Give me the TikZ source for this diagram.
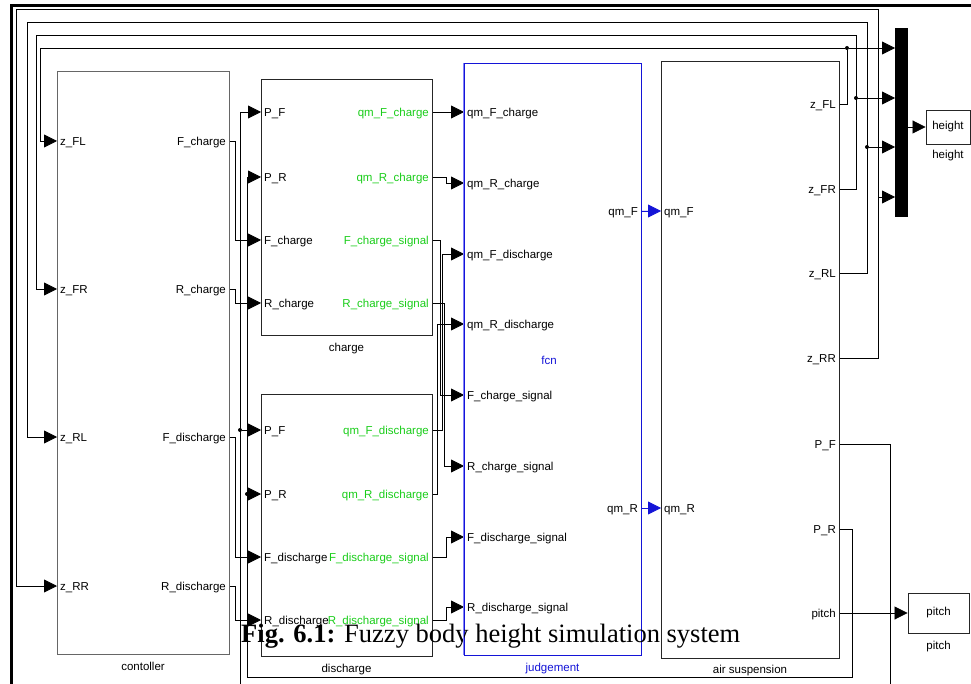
\documentclass[tikz,border=0pt]{standalone}
\usepackage{fontspec}
\setmainfont{Liberation Sans}
\newfontfamily\capfont{Liberation Serif}
\usetikzlibrary{arrows.meta}
\definecolor{portgreen}{RGB}{25,205,25}
\definecolor{fcnblue}{RGB}{20,20,215}
\definecolor{fcnlight}{RGB}{130,130,250}
\newcommand{\portsize}{\fontsize{11.5}{13}\selectfont}
\pgfdeclarelayer{edgelayer}
\pgfdeclarelayer{nodelayer}
\pgfsetlayers{edgelayer,nodelayer,main}
\tikzstyle{block}=[draw=black!85, line width=0.9pt, inner sep=0pt]
\tikzstyle{inport}=[anchor=west, inner xsep=3pt, inner ysep=0pt, text height=9pt, text depth=0pt, font=\portsize]
\tikzstyle{outport}=[inport, anchor=east]
\tikzstyle{gport}=[outport, text=portgreen]
\tikzstyle{blockname}=[anchor=base, inner sep=0pt, font=\portsize]
\tikzstyle{sig}=[draw=black, line width=0.8pt, -{Triangle[length=13pt,width=13pt]}]
\tikzstyle{junct}=[circle, fill=black, inner sep=0pt, minimum size=4pt]

\begin{document}
\begin{tikzpicture}[x=1pt, y=-1pt]
				\useasboundingbox (0,0) rectangle (971,684);
				\begin{pgfonlayer}{nodelayer}
					% blocks
					\node [style=block, draw=black!60, minimum width=172pt, minimum height=583pt] (ctl) at (143,362.5) {};
					\node [style=block, minimum width=171pt, minimum height=256pt] (chg) at (346.5,207) {};
					\node [style=block, minimum width=171pt, minimum height=262pt] (dis) at (346.5,525) {};
					\node [style=block, draw=fcnblue, minimum width=177pt, minimum height=592pt] (jdg) at (552.5,359) {};
					\node [style=block, minimum width=178pt, minimum height=597pt] (air) at (750,359.5) {};
					\node [fill=black, inner sep=0pt, minimum width=13pt, minimum height=189pt] (mux) at (901.5,122.5) {};
					\node [style=block, minimum width=44pt, minimum height=34pt, font=\portsize] (hgt) at (948,127) {height};
					\node [style=block, minimum width=61pt, minimum height=40pt, font=\portsize] (pit) at (938.5,613) {pitch};
					% block names
					\node [style=blockname] (ctlname) at (143,670) {contoller};
					\node [style=blockname] (chgname) at (346.5,351) {charge};
					\node [style=blockname] (disname) at (346.5,672) {discharge};
					\node [style=blockname, text=fcnblue] (jdgname) at (552.5,671) {judgement};
					\node [style=blockname] (airname) at (750,673) {air suspension};
					\node [style=blockname] (hgtname) at (948,159) {height};
					\node [style=blockname] (pitname) at (938.5,649) {pitch};
					\node [style=blockname, text=fcnblue] (fcn) at (549,364) {fcn};
					% contoller ports
					\node [style=inport] (ctFL) at (57,141) {z\_FL};
					\node [style=inport] (ctFR) at (57,289) {z\_FR};
					\node [style=inport] (ctRL) at (57,437) {z\_RL};
					\node [style=inport] (ctRR) at (57,586) {z\_RR};
					\node [style=outport] (ctFc) at (229,141) {F\_charge};
					\node [style=outport] (ctRc) at (229,289) {R\_charge};
					\node [style=outport] (ctFd) at (229,437) {F\_discharge};
					\node [style=outport] (ctRd) at (229,586) {R\_discharge};
					% charge ports
					\node [style=inport] (chPF) at (261,112) {P\_F};
					\node [style=inport] (chPR) at (261,177) {P\_R};
					\node [style=inport] (chFc) at (261,240) {F\_charge};
					\node [style=inport] (chRc) at (261,303) {R\_charge};
					\node [style=gport] (chqF) at (432,112) {qm\_F\_charge};
					\node [style=gport] (chqR) at (432,177) {qm\_R\_charge};
					\node [style=gport] (chFs) at (432,240) {F\_charge\_signal};
					\node [style=gport] (chRs) at (432,303) {R\_charge\_signal};
					% discharge ports
					\node [style=inport] (dsPF) at (261,430) {P\_F};
					\node [style=inport] (dsPR) at (261,494) {P\_R};
					\node [style=inport] (dsFd) at (261,557) {F\_discharge};
					\node [style=inport] (dsRd) at (261,620) {R\_discharge};
					\node [style=gport] (dsqF) at (432,430) {qm\_F\_discharge};
					\node [style=gport] (dsqR) at (432,494) {qm\_R\_discharge};
					\node [style=gport] (dsFs) at (432,557) {F\_discharge\_signal};
					\node [style=gport] (dsRs) at (432,620) {R\_discharge\_signal};
					% judgement ports
					\node [style=inport] (jqFc) at (464,112) {qm\_F\_charge};
					\node [style=inport] (jqRc) at (464,183) {qm\_R\_charge};
					\node [style=inport] (jqFd) at (464,254) {qm\_F\_discharge};
					\node [style=inport] (jqRd) at (464,324) {qm\_R\_discharge};
					\node [style=inport] (jFcs) at (464,395) {F\_charge\_signal};
					\node [style=inport] (jRcs) at (464,466) {R\_charge\_signal};
					\node [style=inport] (jFds) at (464,537) {F\_discharge\_signal};
					\node [style=inport] (jRds) at (464,607) {R\_discharge\_signal};
					\node [style=outport] (jqF) at (641,211) {qm\_F};
					\node [style=outport] (jqR) at (641,508) {qm\_R};
					% air suspension ports
					\node [style=inport] (asqF) at (661,211) {qm\_F};
					\node [style=inport] (asqR) at (661,508) {qm\_R};
					\node [style=outport] (asFL) at (839,104) {z\_FL};
					\node [style=outport] (asFR) at (839,189) {z\_FR};
					\node [style=outport] (asRL) at (839,273) {z\_RL};
					\node [style=outport] (asRR) at (839,358) {z\_RR};
					\node [style=outport] (asPF) at (839,444) {P\_F};
					\node [style=outport] (asPR) at (839,529) {P\_R};
					\node [style=outport] (asPt) at (839,613) {pitch};
					% junctions
					\node [style=junct] (jnFL) at (847,48) {};
					\node [style=junct] (jnFR) at (856,98) {};
					\node [style=junct] (jnRL) at (867,147) {};
					\coordinate (jnRR) at (878,197);
					\node [style=junct] (jnPF) at (240,430) {};
					\node [style=junct] (jnPR) at (247,494) {};
					\coordinate (mx1) at (895,48);
					\coordinate (mx2) at (895,98);
					\coordinate (mx3) at (895,147);
					\coordinate (mx4) at (895,197);
					% caption
					\node [anchor=base west, inner sep=0pt, font=\capfont\fontsize{26.5}{30}\selectfont] (cap) at (241,642) {\textbf{Fig. 6.1:} Fuzzy body height simulation system};
				\end{pgfonlayer}
				\begin{pgfonlayer}{edgelayer}
					\draw [line width=3pt] (11,690) -- (11,5.3) -- (975,5.3);
					% feedback of body heights
					\draw [style=sig] (asFL.east) -| (jnFL) -| (40,141) -- (ctFL.west);
					\draw [style=sig] (asFR.east) -- (856,189) |- (36,35) |- (ctFR.west);
					\draw [style=sig] (asRL.east) -- (867,273) |- (27,22) |- (ctRL.west);
					\draw [style=sig] (asRR.east) -- (878,358) |- (16,9) |- (ctRR.west);
					\draw [style=sig] (jnFL) -- (mx1);
					\draw [style=sig] (jnFR) -- (mx2);
					\draw [style=sig] (jnRL) -- (mx3);
					\draw [style=sig] (jnRR) -- (mx4);
					\draw [style=sig] (mux.east |- hgt.west) -- (hgt.west);
					% contoller to charge / discharge
					\draw [style=sig] (ctFc.east) -- ++(6,0) |- (chFc.west);
					\draw [style=sig] (ctRc.east) -- ++(6,0) |- (chRc.west);
					\draw [style=sig] (ctFd.east) -- ++(6,0) |- (dsFd.west);
					\draw [style=sig] (ctRd.east) -- ++(6,0) |- (dsRd.west);
					% pressures back
					\draw [style=sig] (asPF.east) -- (890,444) |- (240,700) |- (chPF.west);
					\draw [style=sig] (jnPF) -- (dsPF.west);
					\draw [style=sig] (asPR.east) -- (852,529) |- (247,677) |- (chPR.west);
					\draw [style=sig] (jnPR) -- (dsPR.west);
					% charge / discharge to judgement
					\draw [style=sig] (chqF.east) -- (jqFc.west);
					\draw [style=sig] (chqR.east) -- ++(14,0) |- (jqRc.west);
					\draw [style=sig] (chFs.east) -- ++(8,0) |- (jFcs.west);
					\draw [style=sig] (chRs.east) -- ++(12,0) |- (jRcs.west);
					\draw [style=sig] (dsqF.east) -- ++(10,0) |- (jqFd.west);
					\draw [style=sig] (dsqR.east) -- ++(5,0) |- (jqRd.west);
					\draw [style=sig] (dsFs.east) -- ++(14,0) |- (jFds.west);
					\draw [style=sig] (dsRs.east) -- ++(14,0) |- (jRds.west);
					% judgement to air suspension
					\draw [style=sig, draw=fcnblue, fill=fcnblue] (jqF.east) -- (asqF.west);
					\draw [style=sig, draw=fcnblue, fill=fcnblue] (jqR.east) -- (asqR.west);
					\draw [style=sig] (asPt.east) -- (pit.west);
				\end{pgfonlayer}
				% lighter left side of the judgement block
				\draw [draw=fcnlight, line width=0.9pt] (jdg.north west) -- (jdg.south west);
\end{tikzpicture}
\end{document}
